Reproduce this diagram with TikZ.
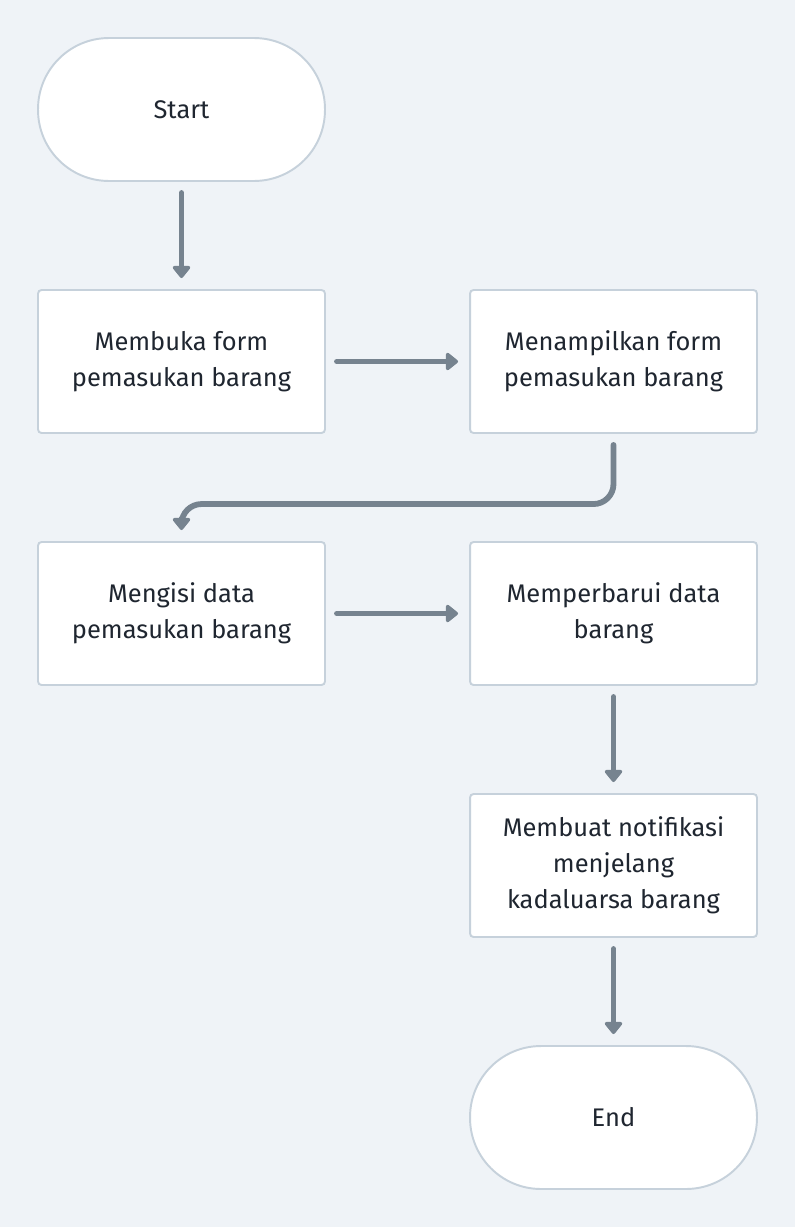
\documentclass[tikz,border=0pt]{standalone}
\usepackage{fontspec}
\setmainfont{Fira Sans}
\usetikzlibrary{arrows.meta,calc,positioning}
\definecolor{BgGrey}{HTML}{EFF3F7}
\definecolor{EdgeGrey}{HTML}{C6D1DB}
\definecolor{FlowSlate}{HTML}{76838F}
\definecolor{InkDark}{HTML}{1F2630}
\tikzset{
    block/.style = {draw=EdgeGrey, fill=white, rectangle, line width=1.1pt,
        rounded corners=2pt, align=center, text=InkDark,
        minimum height=2.86cm, minimum width=5.74cm,
        font=\fontsize{14.5}{20.4}\selectfont},
    terminal/.style = {block, rounded corners=1.42cm},
    arrow/.style = {draw=FlowSlate, line width=3.3pt, line cap=round,
        -{Triangle[width=11.5pt,length=7.5pt,round]},
        shorten <=0.22cm, shorten >=0.22cm}
}

\begin{document}
\begin{tikzpicture}[x=0.02cm,y=0.02cm]
        \fill[BgGrey] (0,0) rectangle (795,-1227);
        \useasboundingbox (0,0) rectangle (795,-1227);
        % nodes
        \node[terminal] (start) at (181.5,-109.5) {Start};
        \node[block] (openform) at (181.5,-361.5) {Membuka form\\pemasukan barang};
        \node[block] (showform) at (613.5,-361.5) {Menampilkan form\\pemasukan barang};
        \node[block] (filldata) at (181.5,-613.5) {Mengisi data\\pemasukan barang};
        \node[block] (update) at (613.5,-613.5) {Memperbarui data\\barang};
        \node[block] (notify) at (613.5,-865.5) {Membuat notifikasi\\menjelang\\kadaluarsa barang};
        \node[terminal] (finish) at (613.5,-1117.5) {End};
        \coordinate (turn) at ($(filldata.north)+(0,37)$);
        % connectors
        \draw[arrow] (start) -- (openform);
        \draw[arrow] (openform) -- (showform);
        \draw[arrow, rounded corners=0.4cm] (showform.south) |- (turn) -- (filldata.north);
        \draw[arrow] (filldata) -- (update);
        \draw[arrow] (update) -- (notify);
        \draw[arrow] (notify) -- (finish);
\end{tikzpicture}
\end{document}
